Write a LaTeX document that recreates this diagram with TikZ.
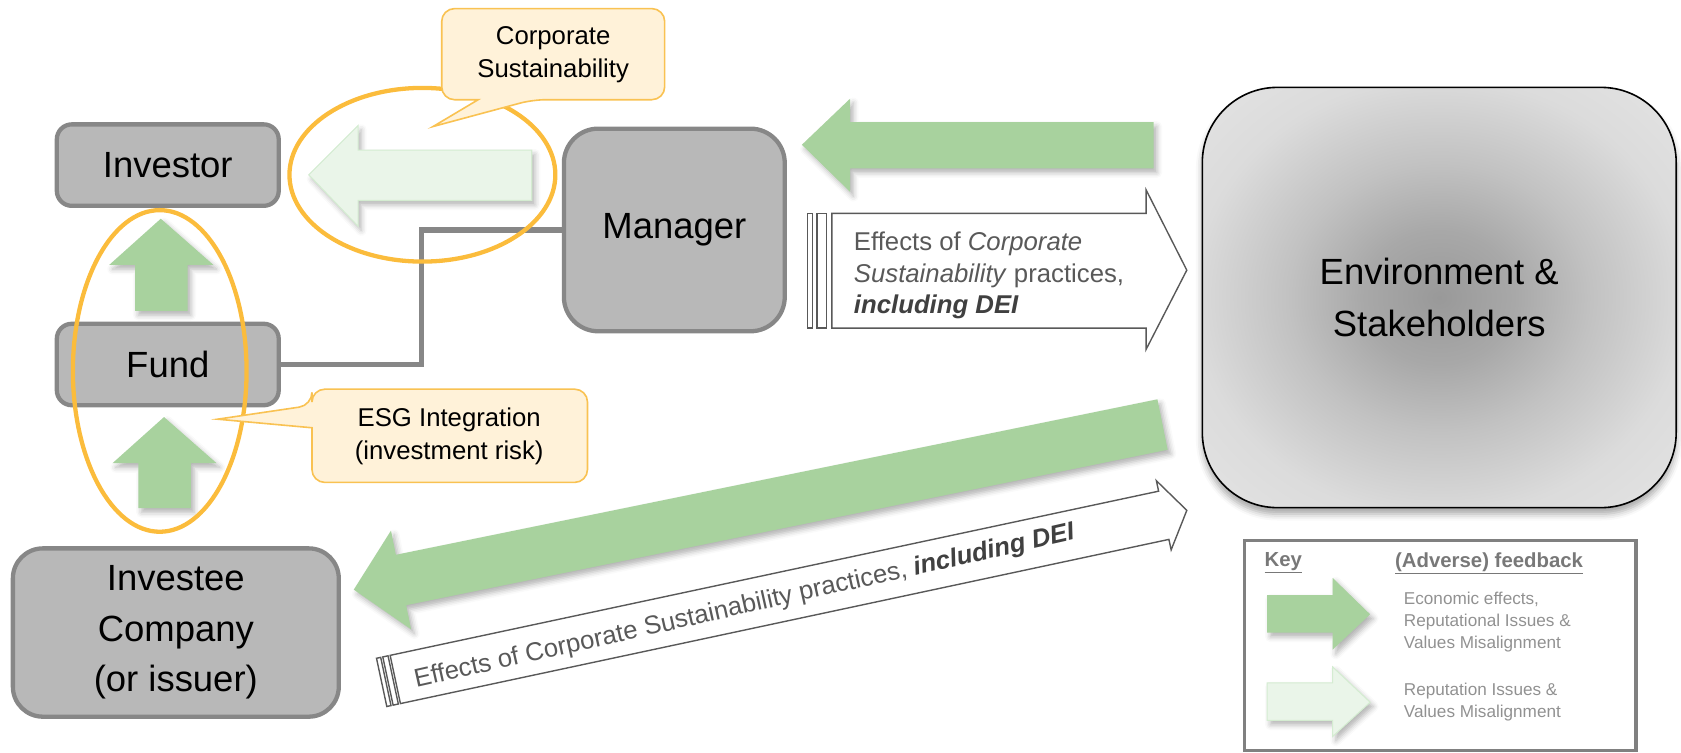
\documentclass[tikz,border=0pt]{standalone}
\usepackage{fontspec}
\setmainfont{Liberation Sans}
\usetikzlibrary{shadows.blur}

\definecolor{boxfill}{RGB}{184,184,184}
\definecolor{boxline}{RGB}{135,135,135}
\definecolor{fbgreen}{RGB}{168,210,158}
\definecolor{palegreen}{RGB}{234,245,233}
\definecolor{palegreenline}{RGB}{212,236,209}
\definecolor{ring}{RGB}{251,188,60}
\definecolor{notefill}{RGB}{255,242,217}
\definecolor{noteline}{RGB}{249,194,82}
\definecolor{effecttext}{RGB}{89,89,89}
\definecolor{effectline}{RGB}{89,89,89}
\definecolor{keyline}{RGB}{128,128,128}
\definecolor{keyhead}{RGB}{120,120,120}
\definecolor{keytext}{RGB}{145,145,145}

% radial glow for the environment box
\pgfdeclareradialshading{envglow}{\pgfpoint{0bp}{0bp}}{%
  color(0bp)=(black!40); color(8bp)=(black!34); color(16bp)=(black!24);
  color(26bp)=(black!14); color(38bp)=(black!10); color(50bp)=(black!8)}

\tikzset{
  entity/.style={draw=boxline, fill=boxfill, line width=4pt, rounded corners=14pt,
    inner sep=0pt, align=center, font=\fontsize{34}{47}\selectfont},
  link/.style={draw=boxline, line width=5pt},
  softshadow/.style={blur shadow={shadow xshift=3pt, shadow yshift=-4pt,
    shadow blur radius=5pt, shadow opacity=30}},
  feedback/.style={fill=fbgreen, softshadow},
  palefeedback/.style={fill=palegreen, draw=palegreenline, line width=1pt, softshadow},
  focus/.style={draw=ring, line width=4pt},
  callout/.style={fill=notefill, draw=noteline, line width=1.5pt},
  calltext/.style={align=center, font=\fontsize{24}{30}\selectfont},
  effect/.style={draw=effectline, fill=white, line width=1.3pt},
  effecttxt/.style={text=effecttext, font=\fontsize{24}{29.5}\selectfont},
  keytxt/.style={anchor=west, align=left, text=keytext, font=\fontsize{16}{20.5}\selectfont},
  keyhd/.style={text=keyhead, font=\bfseries\fontsize{19}{23}\selectfont},
}

\begin{document}
\begin{tikzpicture}[x=1pt,y=-1pt]
\useasboundingbox (0,0) rectangle (1568,702);

% ---- actors ----
\node[entity, minimum width=207pt, minimum height=76pt] (investor) at (156.5,154) {Investor};
\node[entity, minimum width=207pt, minimum height=76pt] (fund) at (156.5,340) {Fund};
\node[entity, rounded corners=28pt, minimum width=304pt, minimum height=157pt] (investee) at (164,590)
  {Investee\\Company\\(or issuer)};
\node[entity, rounded corners=32pt, minimum width=206pt, minimum height=189pt] (manager) at (629,214.5) {Manager};
\node[draw=black, line width=1.5pt, rounded corners=70pt, shading=envglow,
  minimum width=442pt, minimum height=392pt, inner sep=0pt, align=center,
  font=\fontsize{34}{48}\selectfont,
  blur shadow={shadow xshift=0pt, shadow yshift=-6pt, shadow blur radius=6pt, shadow opacity=35}]
  (env) at (1342.5,277.5) {Environment \&\\Stakeholders};

% ---- fund to manager link ----
\coordinate (elbow) at (393,340);
\draw[link] (fund.east) -- (elbow) |- (manager.west);

% ---- feedback arrows ----
% environment -> manager
\fill[feedback] (748,135) -- (793,92) -- (793,114) -- (1076,114) -- (1076,157)
  -- (793,157) -- (793,179) -- cycle;
% manager -> investor (reputation only)
\path[palefeedback] (288,163) -- (334,117) -- (334,140) -- (496,140) -- (496,187)
  -- (334,187) -- (334,211) -- cycle;
% fund -> investor
\fill[feedback] (150,204) -- (199,247) -- (175,247) -- (175,290) -- (126,290)
  -- (126,247) -- (102,247) -- cycle;
% investee -> fund
\fill[feedback] (153,389) -- (202,432) -- (178,432) -- (178,474) -- (129,474)
  -- (129,432) -- (105,432) -- cycle;
% environment -> investee
\begin{scope}[shift={(330,550)}, rotate=11.54]
  \fill[feedback] (0,0) -- (45,-47) -- (45,-24) -- (770,-24) -- (770,24)
    -- (45,24) -- (45,47) -- cycle;
\end{scope}

% ---- effects arrows ----
\draw[effect] (753,199) rectangle (758,306);
\draw[effect] (762,199) rectangle (771,306);
\draw[effect] (776,199) -- (1069,199) -- (1069,177) -- (1107,252) -- (1069,326)
  -- (1069,306) -- (776,306) -- cycle;
\node[effecttxt, anchor=west, align=left] (mgrfx) at (793,257)
  {Effects of \textit{Corporate}\\\textit{Sustainability} practices,\\
   \textcolor{black!75}{\textbf{\textit{including DEI}}}};

\begin{scope}[shift={(356,636.5)}, rotate=12.06]
  \draw[effect] (0,-23) rectangle (4,23);
  \draw[effect] (6,-23) rectangle (11,23);
  \draw[effect] (13,-23) -- (746,-23) -- (746,-33) -- (768,0) -- (746,33)
    -- (746,23) -- (13,23) -- cycle;
  \node[effecttxt, transform shape, rotate=0.6, anchor=base] (coyfx) at (346,8)
    {Effects of Corporate Sustainability practices,
     \textcolor{black!75}{\textbf{\textit{including DEI}}}};
\end{scope}

% ---- highlighted areas ----
\draw[focus] (149,346) ellipse [x radius=81, y radius=150];
\draw[focus] (394,163) ellipse [x radius=124, y radius=81];

% ---- callouts ----
\draw[callout] (446,93) [rounded corners=12pt] -- (412,93) -- (412,8) -- (620,8)
  -- (620,93) -- (497,93) [sharp corners] -- (404,118) -- cycle;
\node[calltext] (cslabel) at (516,51) {Corporate\\Sustainability};

\draw[callout] (291,399) [rounded corners=12pt] -- (291,450) -- (548,450) -- (548,363)
  -- (291,363) -- (291,378) [sharp corners] -- (203,391) -- cycle;
\node[calltext] (esglabel) at (419,407) {ESG Integration\\(investment risk)};

% ---- key ----
\node[draw=keyline, line width=3pt, minimum width=365pt, minimum height=196pt,
  inner sep=0pt] (key) at (1343.5,602) {};
\node[keyhd] (keytitle) at (1197,525) {\underline{Key}};
\node[keyhd] (keyfeed) at (1389,525) {\underline{(Adverse) feedback}};
\fill[feedback] (1182,555) -- (1243,555) -- (1243,539) -- (1278,573) -- (1243,606)
  -- (1243,590) -- (1182,590) -- cycle;
\path[palefeedback] (1182,637) -- (1243,637) -- (1243,622) -- (1278,655) -- (1243,687)
  -- (1243,672) -- (1182,672) -- cycle;
\node[keytxt] (keyecon) at (1306,580) {Economic effects,\\Reputational Issues \&\\Values Misalignment};
\node[keytxt] (keyrep) at (1306,654.5) {Reputation Issues \&\\Values Misalignment};

\end{tikzpicture}
\end{document}
